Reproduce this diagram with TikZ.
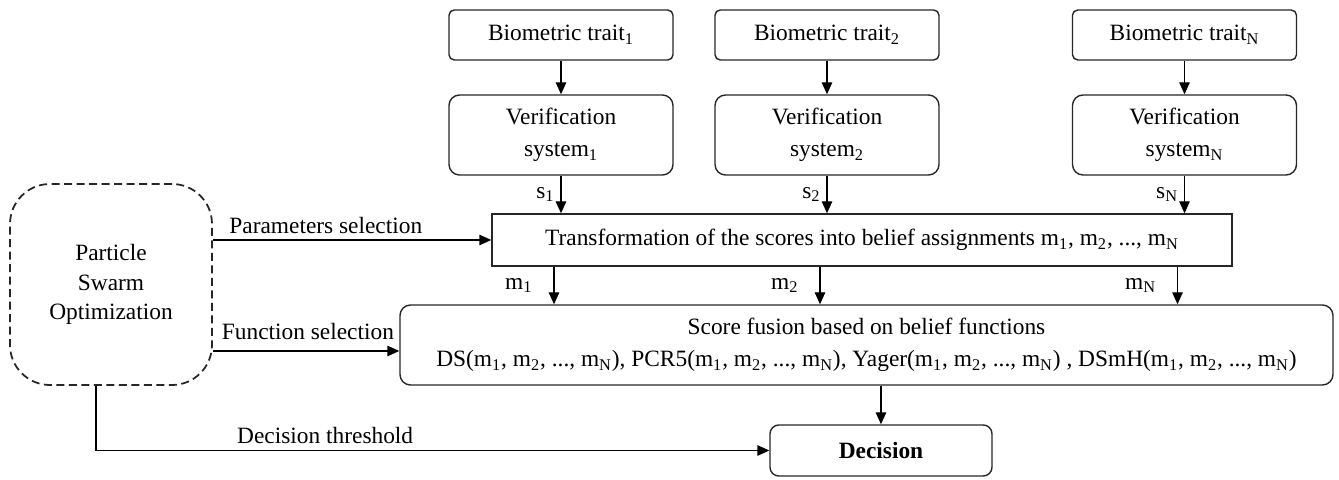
\documentclass[tikz,border=0pt]{standalone}
\usepackage{fontspec}
\setmainfont{Liberation Serif}
\usetikzlibrary{arrows.meta,positioning,calc}
\newcommand{\mlist}{m\textsubscript{1}, m\textsubscript{2}, ..., m\textsubscript{N}}

\begin{document}
\begin{tikzpicture}[font=\fontsize{13.3}{18}\selectfont,
  box/.style={draw=black!85,line width=0.8pt,rounded corners=#1,align=center,inner sep=2pt},
  box/.default=4pt,
  flow/.style={-{Triangle[length=2.4mm,width=2.1mm]},line width=0.8pt}]
  \useasboundingbox (0,0) rectangle (26.78,9.58);
  % sources and verification systems
  \foreach \i/\x in {1/11.22,2/16.54,N/23.69}{
    \node[box=3pt,minimum width=4.48cm,minimum height=1cm] (trait\i) at (\x,8.88) {Biometric trait\textsubscript{\i}};
    \node[box=6pt,minimum width=4.48cm,minimum height=1.6cm] (ver\i) at (\x,6.88) {Verification\\system\textsubscript{\i}};
    \draw[flow] (trait\i) -- (ver\i);
  }
  \node[box=0pt,minimum width=14.8cm,minimum height=1.04cm] (trans) at (17.24,4.78) {Transformation of the scores into belief assignments \mlist};
  \node[box=6pt,minimum width=18.66cm,minimum height=1.6cm] (fusion) at (17.33,2.68)
    {Score fusion based on belief functions\\DS(\mlist), PCR5(\mlist), Yager(\mlist) , DSmH(\mlist)};
  \node[box=5pt,minimum width=4.44cm,minimum height=1.02cm] (decision) at (17.62,0.57) {\textbf{Decision}};
  \node[box=0.8cm,dashed,dash pattern=on 1.6mm off 0.9mm,line width=1pt,minimum width=4.04cm,minimum height=4.02cm,
    font=\fontsize{13.3}{17}\selectfont] (pso) at (2.22,3.89) {Particle\\Swarm\\Optimization};
  % scores and masses
  \foreach \i in {1,2,N}{
    \draw[flow] (ver\i) -- (ver\i |- trans.north) node[midway,left] {s\textsubscript{\i}};
    \draw[flow] ($(trans.south -| ver\i)+(-0.14,0)$) -- ($(fusion.north -| ver\i)+(-0.14,0)$) node[midway,left=3mm] {m\textsubscript{\i}};
  }
  \draw[flow] (fusion.south -| decision) -- (decision);
  % optimisation links
  \coordinate (fin) at ($(fusion.west)+(0,-0.12)$);
  \draw[flow] (pso.east |- trans.west) -- (trans.west) node[pos=0,anchor=south west,xshift=2mm] {Parameters selection};
  \draw[flow] (pso.east |- fin) -- (fin) node[pos=0,anchor=south west,xshift=0.5mm,yshift=1mm] {Function selection};
  \draw[flow] ([xshift=-3mm]pso.south) |- (decision.west) node[pos=0.6,anchor=south west] {Decision threshold};
\end{tikzpicture}
\end{document}
